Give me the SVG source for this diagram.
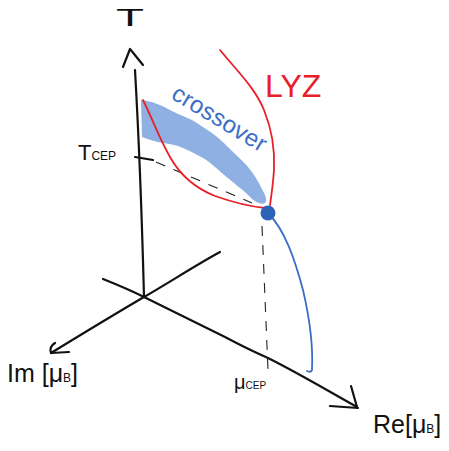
<svg xmlns="http://www.w3.org/2000/svg" width="449" height="451" viewBox="0 0 449 451">
<style>
.ax{fill:none;stroke:#111;stroke-width:2.2;stroke-linecap:round;stroke-linejoin:round}
.dash{fill:none;stroke:#222;stroke-width:1.1;stroke-dasharray:10 9}
.red{fill:none;stroke:#e8202a;stroke-width:1.8;stroke-linecap:round}
.blue{fill:none;stroke:#3b6fc6;stroke-width:1.8;stroke-linecap:round}
.lbl{font-family:"Liberation Sans",Arial,sans-serif;fill:#111}
</style>
<rect width="449" height="451" fill="#fff"/>
<g id="band">
<path d="M141,100 C152,101 163,106 172,111 C180,115 186,117 192,120 C200,125 206,129 212,133 C220,139 225,144 231,150 C238,157 243,161 248,167 C254,174 258,181 262,189 C265,195 268,200 265,203 C261,205 256,202 252,199 C247,194 244,191 240,188 C233,182 229,179 223,174 C215,167 210,162 203,158 C196,154 190,151 183,148 C176,145 170,144 163,143 C156,142 150,140 142,137 Z" fill="#8eb0e2"/>
</g>
<g id="axes">
<path class="ax" d="M135,70 C139,140 142,220 144,297"/>
<path class="ax" d="M123,67 L130,49 L143,65"/>
<path class="ax" d="M220,252 C196,265 170,282 144,297 C115,314 82,334 51,353"/>
<path class="ax" d="M55,343 C50,346 50,350 51,353 L69,352"/>
<path class="ax" d="M103,279 C118,285 130,290 144,297 L225,337 C240,345 252,351 268,358 C300,374 330,392 357,407"/>
<path class="ax" d="M351,386 L357,407 M330,406 L358,408"/>
<path class="ax" d="M135,157 L153,160"/>
</g>
<g id="dashes">
<path class="dash" d="M156,162 L252,203"/>
<path class="dash" d="M262,226 L268,370"/>
</g>
<g id="curves">
<path class="red" d="M143,100 C152,118 160,140 170,157 C180,175 195,188 215,196 C235,203 255,207 265,208"/>
<path class="red" d="M220,50 C238,72 255,88 264,110 C273,132 275,150 274,170 C273,185 271,198 270,205"/>
<path class="blue" d="M268,213 C285,230 295,260 303,290 C310,320 313,350 312,370 C311,372 309,372 307,371"/>
<circle cx="268" cy="213" r="7.5" fill="#2d62b8"/>
</g>
<g id="labels">
<text class="lbl" x="116" y="26" font-size="24" textLength="28" lengthAdjust="spacingAndGlyphs">T</text>
<text class="lbl" x="78" y="160" font-size="22">T<tspan font-size="12">CEP</tspan></text>
<text class="lbl" x="234" y="389" font-size="20">μ<tspan font-size="10">CEP</tspan></text>
<text class="lbl" x="7" y="382" font-size="25">Im [μ<tspan font-size="12">B</tspan>]</text>
<text class="lbl" x="373" y="433" font-size="25">Re[μ<tspan font-size="12">B</tspan>]</text>
<text x="170" y="98" transform="rotate(31 170 98)" font-family="Liberation Sans,Arial,sans-serif" font-size="24" fill="#3b6fc6" textLength="106">crossover</text>
<text x="265" y="97" font-family="Liberation Sans,Arial,sans-serif" font-size="32" fill="#e8202a">LYZ</text>
</g>
</svg>
